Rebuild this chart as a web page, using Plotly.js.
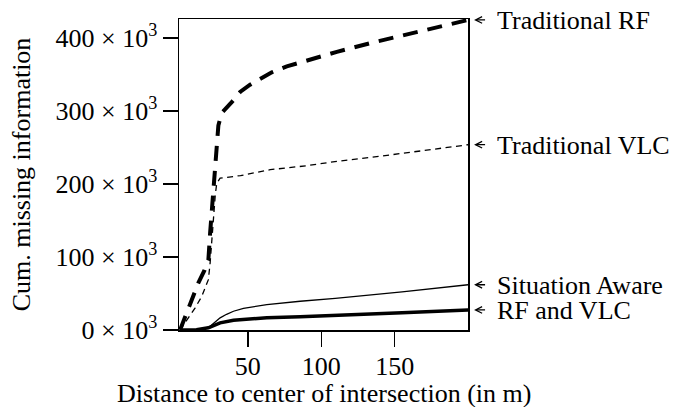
<!DOCTYPE html>
<html>
<head>
<meta charset="utf-8">
<script src="https://cdn.plot.ly/plotly-3.0.1.min.js"></script>
<style>
  html, body { margin: 0; padding: 0; background: #fff; }
  #chart { width: 675px; height: 407px; }
</style>
</head>
<body>
<div id="chart"></div>
<script>
// Distances (m) and cumulative missing information (in thousands, i.e. ×10^3)
const tradRF_x = [3.8, 10.6, 16.3, 20.5, 23.1, 24.3, 25.4, 26.5, 27.7, 28.8, 29.9, 31.5, 33, 39, 44.7, 51.5, 59.5, 66.3, 76.5, 94.7, 110.6, 133.4, 156, 178.8, 200];
const tradRF_y = [0, 35, 64.6, 82, 96, 133, 165, 190, 215, 250, 280, 292, 299, 312, 326, 336, 345, 353, 361, 372, 381, 393, 404, 415.6, 424.7];

const tradVLC_x = [3.8, 8, 14, 18.6, 23.1, 24.3, 25.4, 26.5, 27.8, 28.8, 31.1, 45, 65.2, 90, 110.6, 140, 170, 200];
const tradVLC_y = [0, 12, 30, 46, 69, 92, 124, 160, 185, 201, 208, 211.5, 219.6, 225, 231, 238, 246, 253.8];

const sitAware_x = [3.8, 15, 23.1, 27, 31.1, 35.5, 40.2, 47, 55, 62.9, 85.6, 109.5, 155, 200];
const sitAware_y = [0, 0.5, 3, 10, 16.7, 21.5, 25.7, 29.5, 32.5, 34.9, 39.4, 43.3, 52.2, 62];

const rfvlc_x = [3.8, 15, 23.1, 27, 31.1, 40.2, 50, 62.9, 85.6, 109.5, 155, 200];
const rfvlc_y = [0, 0.5, 3, 6.5, 9.8, 13.4, 15.2, 16.7, 18.2, 19.8, 23.5, 27.5];

const seriesNames = ["Traditional RF", "Traditional VLC", "Situation Aware", "RF and VLC"];
const yTickVals = [0, 100, 200, 300, 400];
const yTickText = ["0", "100", "200", "300", "400"].map(v => v + " \u00d7 10<sup>3</sup>");
const xTickVals = [50, 100, 150];
const xTickText = ["50", "100", "150"];

const FONT = "'Liberation Serif', 'Times New Roman', serif";
const FS = 26;

const series = [
  {x: tradRF_x, y: tradRF_y, line: {color: "#000", width: 4, dash: "15px,10px"}},
  {x: tradVLC_x, y: tradVLC_y, line: {color: "#000", width: 1.3, dash: "6px,4.5px"}},
  {x: sitAware_x, y: sitAware_y, line: {color: "#000", width: 1.3}},
  {x: rfvlc_x, y: rfvlc_y, line: {color: "#000", width: 3.5}}
];

const traces = series.map((s, i) => ({
  type: "scatter", mode: "lines", name: seriesNames[i],
  x: s.x, y: s.y, line: s.line, hoverinfo: "skip"
}));

const annotations = [];
series.forEach((s, i) => {
  const yLast = s.y[s.y.length - 1];
  // arrow pointing left toward the plot
  annotations.push({
    xref: "paper", yref: "y", x: 1.021, y: yLast,
    text: " ", showarrow: true, ax: 16, ay: 0,
    arrowhead: 5, arrowsize: 1, arrowwidth: 1.3, arrowcolor: "#000"
  });
  annotations.push({
    xref: "paper", yref: "y", x: 1.098, y: yLast,
    xanchor: "left", yanchor: "middle", showarrow: false,
    height: 22, valign: "middle", borderpad: 0,
    text: seriesNames[i],
    font: {family: FONT, size: FS, color: "#000"}
  });
});

annotations.push({
  xref: "paper", yref: "paper", x: 0.5, y: -0.205,
  xanchor: "center", yanchor: "middle", showarrow: false,
  text: "Distance to center of intersection (in m)",
  font: {family: FONT, size: FS, color: "#000"}
});

const layout = {
  width: 675, height: 407,
  margin: {l: 179, r: 207, t: 19, b: 77, pad: 0},
  paper_bgcolor: "#fff", plot_bgcolor: "#fff",
  showlegend: false,
  font: {family: FONT, size: FS, color: "#000"},
  xaxis: {
    range: [3.1, 199.9], tickvals: xTickVals, ticktext: xTickText,
    ticks: "outside", ticklen: 15, tickwidth: 1.3, tickcolor: "#000",
    ticklabelstandoff: -3,
    showline: true, linecolor: "#000", linewidth: 1.5, mirror: true,
    showgrid: false, zeroline: false,
    tickfont: {family: FONT, size: FS, color: "#000"}
  },
  yaxis: {
    range: [0, 426], tickvals: yTickVals, ticktext: yTickText,
    ticks: "outside", ticklen: 15, tickwidth: 1.3, tickcolor: "#000",
    showline: true, linecolor: "#000", linewidth: 1.5, mirror: true,
    showgrid: false, zeroline: false,
    tickfont: {family: FONT, size: FS, color: "#000"},
    title: {text: "Cum. missing information", font: {family: FONT, size: FS, color: "#000"}, standoff: 17}
  },
  annotations: annotations
};

Plotly.newPlot("chart", traces, layout, {staticPlot: true, displayModeBar: false});
</script>
</body>
</html>
